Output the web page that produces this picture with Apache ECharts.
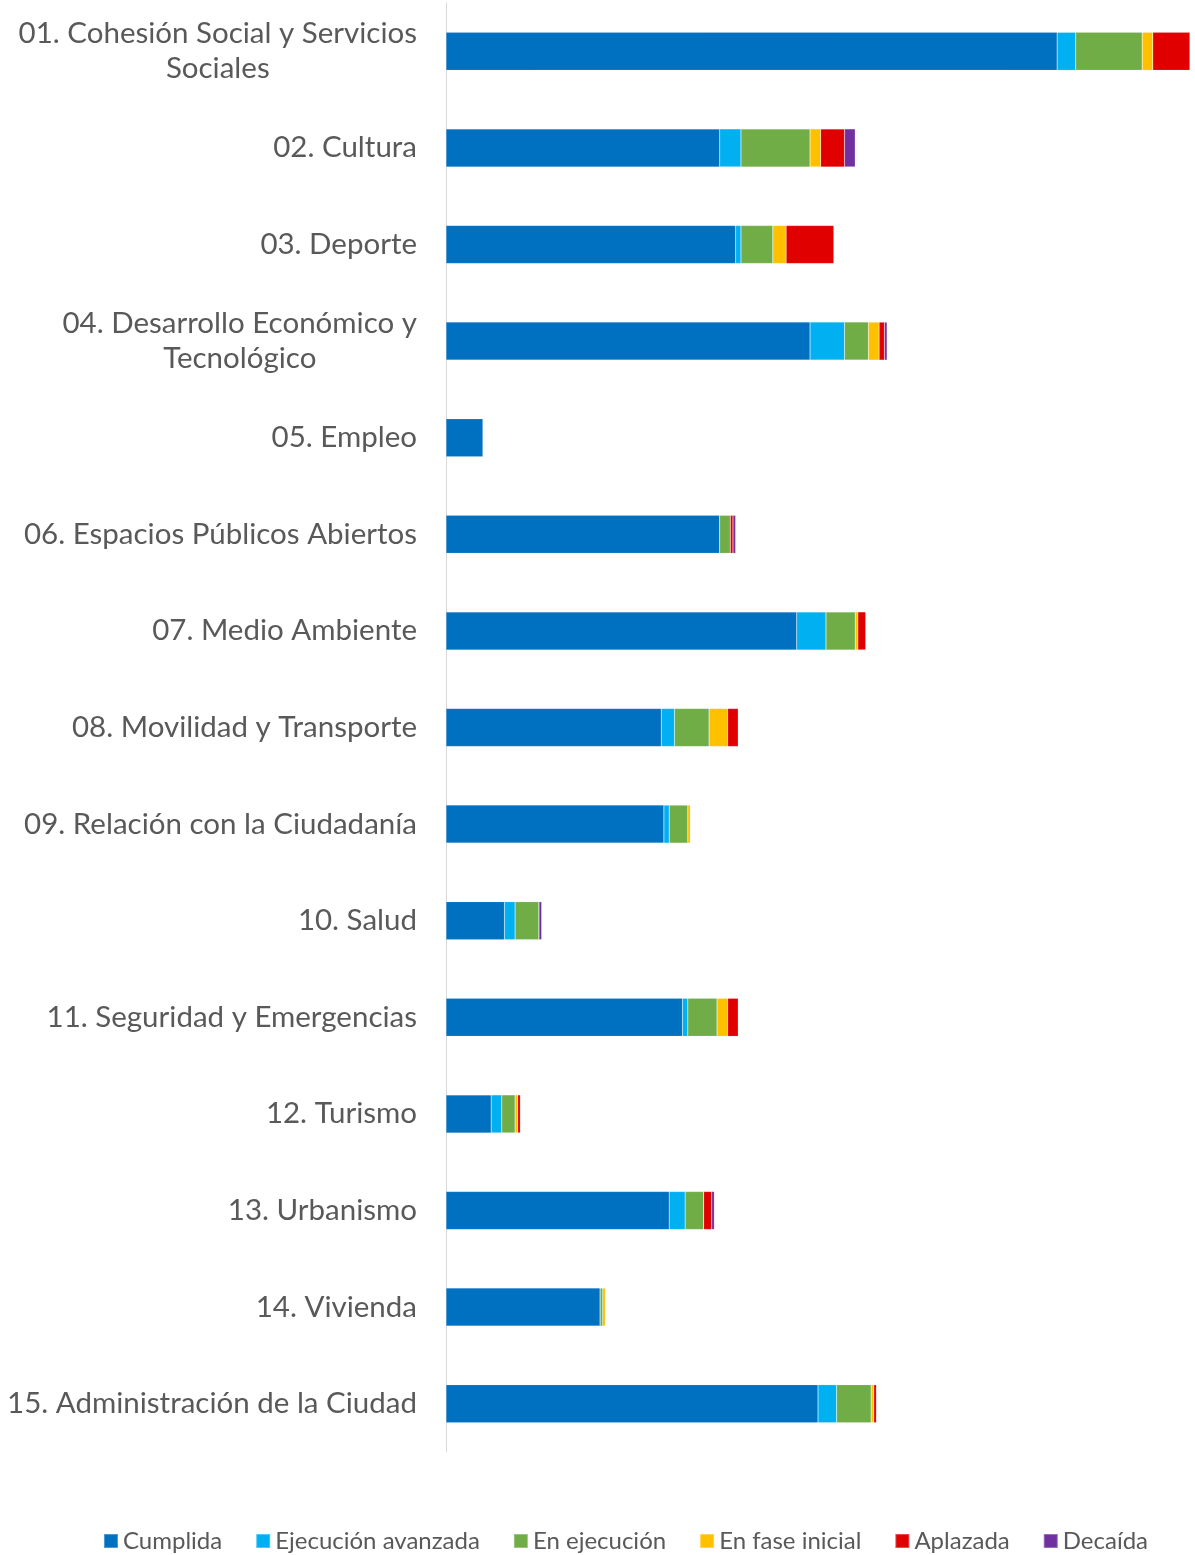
<!DOCTYPE html>
<html>
<head>
<meta charset="utf-8">
<script src="https://cdn.jsdelivr.net/npm/echarts@6/dist/echarts.min.js"></script>
<style>
html,body{margin:0;padding:0;background:#fff;}
#chart{width:1195px;height:1555px;}
</style>
</head>
<body>
<div id="chart"></div>
<script>
const categories = [
  "01. Cohesión Social y Servicios\nSociales",
  "02. Cultura",
  "03. Deporte",
  "04. Desarrollo Económico y\nTecnológico",
  "05. Empleo",
  "06. Espacios Públicos Abiertos",
  "07. Medio Ambiente",
  "08. Movilidad y Transporte",
  "09. Relación con la Ciudadanía",
  "10. Salud",
  "11. Seguridad y Emergencias",
  "12. Turismo",
  "13. Urbanismo",
  "14. Vivienda",
  "15. Administración de la Ciudad"
];
const seriesNames = ["Cumplida","Ejecución avanzada","En ejecución","En fase inicial","Aplazada","Decaída"];
const cumplida          = [230,103,109,137,14,103,132,81,82,22,89,17,84,58,140];
const ejecucionAvanzada = [7,8,2,13,0,0,11,5,2,4,2,4,6,0,7];
const enEjecucion       = [25,26,12,9,0,4,11,13,7,9,11,5,7,1,13];
const enFaseInicial     = [4,4,5,4,0,0,1,7,1,0,4,1,0,1,1];
const aplazada          = [14,9,18,2,0,1,3,4,0,0,4,1,3,0,1];
const decaida           = [0,4,0,1,0,1,0,0,0,1,0,0,1,0,0];
const colors = ["#0070C0","#00B0F0","#70AD47","#FFC000","#E00000","#7030A0"];
const allData = [cumplida, ejecucionAvanzada, enEjecucion, enFaseInicial, aplazada, decaida];

const chart = echarts.init(document.getElementById('chart'));
chart.setOption({
  animation:false,
  color: colors,
  textStyle:{fontFamily:'Lato'},
  grid:{left:446,right:5,top:3,bottom:103,containLabel:false},
  legend:{
    bottom:-3,left:98,
    itemWidth:14,itemHeight:14,itemGap:33,
    icon:'rect',
    textStyle:{fontFamily:'Lato',fontSize:24,color:'#595959'},
    data:seriesNames
  },
  xAxis:{type:'value',min:0,max:280,show:false},
  yAxis:{
    type:'category',inverse:true,data:categories,
    axisLine:{show:true,lineStyle:{color:'#D9D9D9',width:1}},
    axisTick:{show:false},
    splitLine:{show:false},
    axisLabel:{
      margin:29,
      formatter:function(v){return v.split('\n').map(s=>'{c|'+s+'}').join('\n');},
      rich:{c:{align:'center',fontFamily:'Lato',fontSize:29.5,color:'#595959',lineHeight:35}}
    }
  },
  series: seriesNames.map((n,i)=>({
    name:n,type:'bar',stack:'total',barWidth:38,
    itemStyle:{color:colors[i],borderColor:'rgba(255,255,255,0.3)',borderWidth:0.5},
    data:allData[i]
  }))
});
</script>
</body>
</html>
